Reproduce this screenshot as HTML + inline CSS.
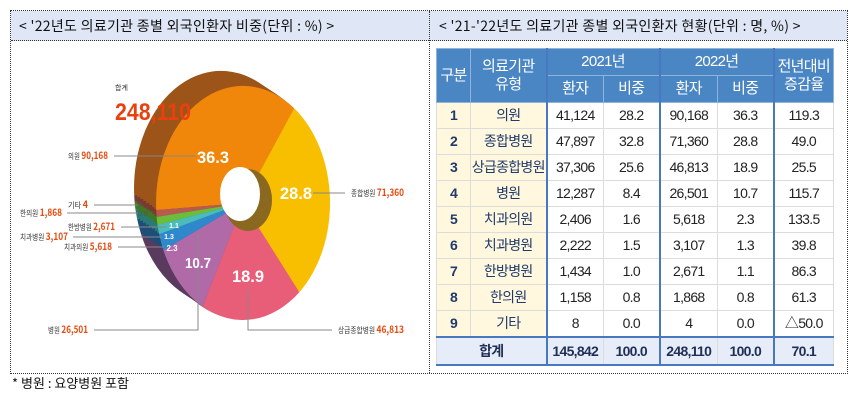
<!DOCTYPE html>
<html><head><meta charset="utf-8"><style>
body{margin:0;background:#fff;width:858px;height:404px;overflow:hidden;font-family:"Liberation Sans","Noto Sans CJK KR",sans-serif;position:relative}
.box{position:absolute;left:10px;top:10px;width:836px;height:362px;border:1px dotted #333}
.hdr{position:absolute;left:0;top:0;width:836px;height:29px;background:#dfe6f6;border-bottom:1px dotted #333}
.vd{position:absolute;left:418px;top:0;width:0;height:362px;border-left:1px dotted #333}
.t1{position:absolute;top:6px;font-size:14px;color:#111;white-space:nowrap;font-family:"Noto Sans CJK KR",sans-serif;letter-spacing:0.3px;line-height:18px}
table{position:absolute;left:425px;top:37px;border-collapse:collapse;table-layout:fixed;width:397px;font-family:"Liberation Sans","Noto Sans CJK KR",sans-serif;font-size:14px;letter-spacing:-0.7px;color:#222}
td{text-align:center;padding:0;border:1px solid #dcdcdc;height:25px;white-space:nowrap;overflow:hidden;line-height:25px}
th{background:#4b86c4;color:#fff;font-weight:normal;border:1px solid #8fb4dc;padding:0;height:26px;font-size:15px;line-height:18px;white-space:nowrap}
.y{background:#fff8df;color:#1f3a6b}
.y1{font-weight:bold}
.bl{border-left:2px solid #4a78c0}
tr.tot td{background:#e6edf8;font-weight:bold;color:#1f2f55;height:26px;border-top:2px solid #4a78c0;border-bottom:2px solid #4a78c0}
.foot{position:absolute;left:12px;top:375px;font-size:13px;color:#111;font-family:"Noto Sans CJK KR",sans-serif;line-height:16px}
</style></head><body>
<div class="box">
<div class="hdr"></div>
<div class="vd"></div>
<div class="t1" style="left:8px">&lt; '22년도 의료기관 종별 외국인환자 비중(단위 : %) &gt;</div>
<div class="t1" style="left:428px">&lt; '21-'22년도 의료기관 종별 외국인환자 현황(단위 : 명, %) &gt;</div>
<table>
<colgroup><col style="width:34px"><col style="width:76px"><col style="width:57px"><col style="width:56px"><col style="width:58px"><col style="width:56px"><col style="width:60px"></colgroup>
<tr><th rowspan="2">구분</th><th rowspan="2">의료기관<br>유형</th><th colspan="2" class="bl">2021년</th><th colspan="2" class="bl">2022년</th><th rowspan="2" class="bl">전년대비<br>증감율</th></tr>
<tr><th class="bl">환자</th><th>비중</th><th class="bl">환자</th><th>비중</th></tr>
<tr><td class="y y1">1</td><td class="y">의원</td><td class="bl">41,124</td><td>28.2</td><td class="bl">90,168</td><td>36.3</td><td class="bl">119.3</td></tr>
<tr><td class="y y1">2</td><td class="y">종합병원</td><td class="bl">47,897</td><td>32.8</td><td class="bl">71,360</td><td>28.8</td><td class="bl">49.0</td></tr>
<tr><td class="y y1">3</td><td class="y">상급종합병원</td><td class="bl">37,306</td><td>25.6</td><td class="bl">46,813</td><td>18.9</td><td class="bl">25.5</td></tr>
<tr><td class="y y1">4</td><td class="y">병원</td><td class="bl">12,287</td><td>8.4</td><td class="bl">26,501</td><td>10.7</td><td class="bl">115.7</td></tr>
<tr><td class="y y1">5</td><td class="y">치과의원</td><td class="bl">2,406</td><td>1.6</td><td class="bl">5,618</td><td>2.3</td><td class="bl">133.5</td></tr>
<tr><td class="y y1">6</td><td class="y">치과병원</td><td class="bl">2,222</td><td>1.5</td><td class="bl">3,107</td><td>1.3</td><td class="bl">39.8</td></tr>
<tr><td class="y y1">7</td><td class="y">한방병원</td><td class="bl">1,434</td><td>1.0</td><td class="bl">2,671</td><td>1.1</td><td class="bl">86.3</td></tr>
<tr><td class="y y1">8</td><td class="y">한의원</td><td class="bl">1,158</td><td>0.8</td><td class="bl">1,868</td><td>0.8</td><td class="bl">61.3</td></tr>
<tr><td class="y y1">9</td><td class="y">기타</td><td class="bl">8</td><td>0.0</td><td class="bl">4</td><td>0.0</td><td class="bl">△50.0</td></tr>
<tr class="tot"><td colspan="2">합계</td><td class="bl">145,842</td><td>100.0</td><td class="bl">248,110</td><td>100.0</td><td class="bl">70.1</td></tr>
</table>
</div>
<svg style="position:absolute;left:0;top:0" width="430" height="372" viewBox="0 0 430 372">
<defs>
<g id="side">
<path d="M243 203 L156.2 210.1 A87 117 0 0 1 294.2 108.3Z" fill="#9c5418"/>
<path d="M243 203 L294.2 108.3 A87 117 0 0 1 299.3 292.2Z" fill="#b88a00"/>
<path d="M243 203 L299.3 292.2 A87 117 0 0 1 202.6 306.6Z" fill="#8a3a50"/>
<path d="M243 203 L202.6 306.6 A87 117 0 0 1 163.4 250.2Z" fill="#5a3a5e"/>
<path d="M243 203 L163.4 250.2 A87 117 0 0 1 159.2 234.3Z" fill="#1e4d78"/>
<path d="M243 203 L159.2 234.3 A87 117 0 0 1 157.5 224.9Z" fill="#2a7a7a"/>
<path d="M243 203 L157.5 224.9 A87 117 0 0 1 156.6 216.9Z" fill="#3e7a22"/>
<path d="M243 203 L156.6 216.9 A87 117 0 0 1 156.2 210.1Z" fill="#7a3a34"/>
</g>
</defs>
<use href="#side" transform="translate(-22,-15)"/>
<use href="#side" transform="translate(-19,-13)"/>
<use href="#side" transform="translate(-16,-11)"/>
<use href="#side" transform="translate(-13,-9)"/>
<use href="#side" transform="translate(-10,-7)"/>
<use href="#side" transform="translate(-7,-5)"/>
<use href="#side" transform="translate(-4,-3)"/>
<use href="#side" transform="translate(-2,-1)"/>
<path d="M243 203 L156.2 210.1 A87 117 0 0 1 294.2 108.3Z" fill="#f0860a"/>
<path d="M243 203 L294.2 108.3 A87 117 0 0 1 299.3 292.2Z" fill="#f8bf00"/>
<path d="M243 203 L299.3 292.2 A87 117 0 0 1 202.6 306.6Z" fill="#e85e78"/>
<path d="M243 203 L202.6 306.6 A87 117 0 0 1 163.4 250.2Z" fill="#b06aa8"/>
<path d="M243 203 L163.4 250.2 A87 117 0 0 1 159.2 234.3Z" fill="#2f88cc"/>
<path d="M243 203 L159.2 234.3 A87 117 0 0 1 157.5 224.9Z" fill="#4bbcbc"/>
<path d="M243 203 L157.5 224.9 A87 117 0 0 1 156.6 216.9Z" fill="#6cbd3a"/>
<path d="M243 203 L156.6 216.9 A87 117 0 0 1 156.2 210.1Z" fill="#b85a50"/>
<ellipse cx="248" cy="200" rx="24" ry="31" fill="#8a6820"/>
<ellipse cx="240" cy="194" rx="20" ry="27" fill="#fff"/>
<g stroke="#888" stroke-width="1" fill="none">
<path d="M114 156H196"/><path d="M94 205H138"/><path d="M67 213H138"/><path d="M121 227H166"/>
<path d="M73 237H162"/><path d="M118 247H164"/><path d="M94 330H198V232"/><path d="M248 290V330H332"/><path d="M313 193H345"/>
</g>
<g fill="#fff" font-weight="bold" font-family="Liberation Sans, sans-serif" text-anchor="middle">
<text x="213" y="163" font-size="17" textLength="32" lengthAdjust="spacingAndGlyphs">36.3</text>
<text x="296" y="199" font-size="17" textLength="32" lengthAdjust="spacingAndGlyphs">28.8</text>
<text x="248" y="282" font-size="17" textLength="32" lengthAdjust="spacingAndGlyphs">18.9</text>
<text x="198" y="268" font-size="15" textLength="26" lengthAdjust="spacingAndGlyphs">10.7</text>
<text x="172" y="251" font-size="8">2.3</text>
<text x="169" y="239" font-size="7">1.3</text>
<text x="174" y="228" font-size="7">1.1</text>
</g>
<g fill="#555" font-size="7" font-family="Liberation Sans, sans-serif"><text x="138" y="207">0</text><text x="138" y="216">0.8</text></g>
<g font-family="Noto Sans CJK KR, sans-serif" font-size="8" fill="#333">
<text x="115" y="90" font-size="7">합계</text>
<text x="68" y="159" textLength="40" lengthAdjust="spacingAndGlyphs">의원 <tspan fill="#e84a10" font-weight="bold" font-size="10">90,168</tspan></text>
<text x="68" y="208" textLength="20" lengthAdjust="spacingAndGlyphs">기타 <tspan fill="#e84a10" font-weight="bold" font-size="10">4</tspan></text>
<text x="20" y="216" textLength="42" lengthAdjust="spacingAndGlyphs">한의원 <tspan fill="#e84a10" font-weight="bold" font-size="10">1,868</tspan></text>
<text x="68" y="230" textLength="47" lengthAdjust="spacingAndGlyphs">한방병원 <tspan fill="#e84a10" font-weight="bold" font-size="10">2,671</tspan></text>
<text x="20" y="240" textLength="48" lengthAdjust="spacingAndGlyphs">치과병원 <tspan fill="#e84a10" font-weight="bold" font-size="10">3,107</tspan></text>
<text x="64" y="250" textLength="48" lengthAdjust="spacingAndGlyphs">치과의원 <tspan fill="#e84a10" font-weight="bold" font-size="10">5,618</tspan></text>
<text x="48" y="333" textLength="40" lengthAdjust="spacingAndGlyphs">병원 <tspan fill="#e84a10" font-weight="bold" font-size="10">26,501</tspan></text>
<text x="338" y="333" textLength="66" lengthAdjust="spacingAndGlyphs">상급종합병원 <tspan fill="#e84a10" font-weight="bold" font-size="10">46,813</tspan></text>
<text x="351" y="196" textLength="53" lengthAdjust="spacingAndGlyphs">종합병원 <tspan fill="#e84a10" font-weight="bold" font-size="10">71,360</tspan></text>
<text x="115" y="120" font-size="24" font-weight="bold" fill="#e8400e" font-family="Liberation Sans, sans-serif" textLength="76" lengthAdjust="spacingAndGlyphs">248,110</text>
</g>
</svg>
<div class="foot">* 병원 : 요양병원 포함</div>
</body></html>
